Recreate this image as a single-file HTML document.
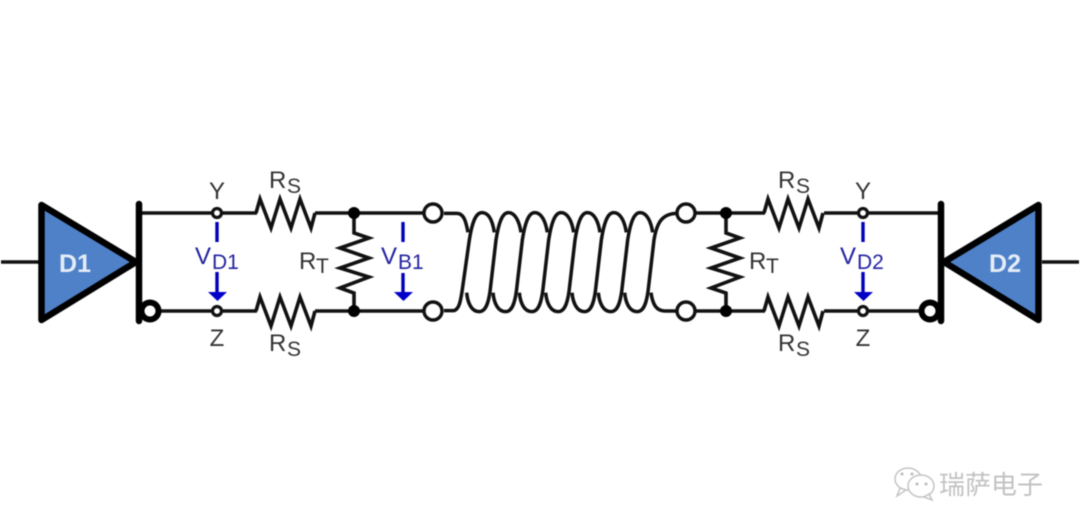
<!DOCTYPE html>
<html><head><meta charset="utf-8">
<style>html,body{margin:0;padding:0;background:#fff}svg{display:block;filter:blur(.4px)}
text{font-family:"Liberation Sans","Noto Sans CJK SC",sans-serif}</style></head>
<body>
<svg width="1080" height="532" viewBox="0 0 1080 532" xmlns="http://www.w3.org/2000/svg">
<rect width="1080" height="532" fill="#fff"/>
<g fill="none" stroke="#111" stroke-width="3.600" stroke-linejoin="miter">
  <!-- wires -->
  <path d="M1 262H40M1042 262H1079"/>
  <path d="M139 213H257M315 213H424M158 311H257M315 311H424"/>
  <path d="M696 213H765M824 213H941M696 311H765M824 311H922"/>
  <!-- series resistors -->
  <path d="M256 213L260 199L271 228L280 199L291 228L300 199L311 228L315 213"/>
  <path d="M256 311L260 297L271 326L280 297L291 326L300 297L311 326L315 311"/>
  <path d="M764 213L768 199L779 228L788 199L799 228L808 199L819 228L823 213"/>
  <path d="M764 311L768 297L779 326L788 297L799 326L808 297L819 326L823 311"/>
  <!-- termination resistors -->
  <path d="M354 213V233L369 238L340 248L369 258L340 268L369 277L340 288L354 293V311"/>
  <path d="M726 213V233L740 238L711 248L740 258L711 268L740 277L711 288L726 293V311"/>
</g>
<!-- drivers -->
<path d="M41.500 205V320L136 262Z" fill="#4f81c9" stroke="#000" stroke-width="6.500" stroke-linejoin="round"/>
<path d="M1038.500 205V320L944 262Z" fill="#4f81c9" stroke="#000" stroke-width="6.500" stroke-linejoin="round"/>
<path d="M139 204V321M941 204V321" stroke="#000" stroke-width="6.500" stroke-linecap="round" fill="none"/>
<circle cx="150" cy="311" r="8.500" fill="#fff" stroke="#000" stroke-width="6"/>
<circle cx="930" cy="311" r="8.500" fill="#fff" stroke="#000" stroke-width="6"/>
<!-- nodes -->
<g fill="#fff" stroke="#111" stroke-width="3.200">
  <circle cx="217" cy="213" r="4.500"/><circle cx="217" cy="311" r="4.500"/>
  <circle cx="863" cy="213" r="4.500"/><circle cx="863" cy="311" r="4.500"/>
</g>
<g fill="#fff" stroke="#111" stroke-width="3.400">
  <circle cx="433" cy="213" r="9"/><circle cx="433" cy="311" r="9"/>
  <circle cx="686" cy="213" r="9"/><circle cx="686" cy="311" r="9"/>
</g>
<g fill="#000">
  <circle cx="354" cy="213" r="6"/><circle cx="354" cy="311" r="6"/>
  <circle cx="726" cy="213" r="6"/><circle cx="726" cy="311" r="6"/>
</g>
<!-- coil -->
<g transform="translate(340,190) scale(.33333)" fill="none" stroke="#111" stroke-width="10.500">
  <path d="M312 70H350C372 70 378 95 384 127"/>
  <path d="M312 362H340C358 360 362 330 366 305L388 150C395 105 405 68 426 68C447 68 458 95 463 127"/>
  <path d="M380 308C383 340 395 365 418 365C437 365 445 340 450 305L468 150C475 105 485 68 505 68C526 68 538 95 543 127"/>
  <path d="M380 308C383 340 395 365 418 365C437 365 445 340 450 305L468 150C475 105 485 68 505 68C526 68 538 95 543 127" transform="translate(79,0)"/>
  <path d="M380 308C383 340 395 365 418 365C437 365 445 340 450 305L468 150C475 105 485 68 505 68C526 68 538 95 543 127" transform="translate(158,0)"/>
  <path d="M380 308C383 340 395 365 418 365C437 365 445 340 450 305L468 150C475 105 485 68 505 68C526 68 538 95 543 127" transform="translate(237,0)"/>
  <path d="M380 308C383 340 395 365 418 365C437 365 445 340 450 305L468 150C475 105 485 68 505 68C526 68 538 95 543 127" transform="translate(316,0)"/>
  <path d="M380 308C383 340 395 365 418 365C437 365 445 340 450 305L468 150C475 105 485 68 505 68C526 68 538 95 543 127" transform="translate(395,0)"/>
  <path d="M854 308C857 340 869 365 892 365C911 365 919 340 924 305L942 150C950 100 965 70 1012 70"/>
  <path d="M933 308C938 345 950 363 975 363H1012"/>
</g>
<!-- voltage arrows -->
<g stroke="#0000b8" stroke-width="3.400" fill="none">
  <path d="M217 222V242M217 272V293"/>
  <path d="M403 222V242M403 273V293"/>
  <path d="M863 222V242M863 272V293"/>
</g>
<g fill="#0000c8">
  <path d="M208 292H227L217.500 301Z"/>
  <path d="M394 292H413L403.500 301Z"/>
  <path d="M854 292H873L863.500 301Z"/>
</g>
<!-- labels -->
<g fill="#333" font-size="24">
  <text x="217" y="199" text-anchor="middle">Y</text>
  <text x="217" y="346" text-anchor="middle">Z</text>
  <text x="863" y="199" text-anchor="middle">Y</text>
  <text x="863" y="346" text-anchor="middle">Z</text>
</g>
<g fill="#333">
  <text x="269" y="188" font-size="24">R</text><text x="287" y="193" font-size="21">S</text>
  <text x="269" y="351" font-size="24">R</text><text x="287" y="356" font-size="21">S</text>
  <text x="778" y="188" font-size="24">R</text><text x="796" y="193" font-size="21">S</text>
  <text x="778" y="351" font-size="24">R</text><text x="796" y="356" font-size="21">S</text>
  <text x="299" y="269" font-size="24">R</text><text x="316" y="273" font-size="21">T</text>
  <text x="749" y="269" font-size="24">R</text><text x="766" y="273" font-size="21">T</text>
</g>
<g fill="#2222a0">
  <text x="195" y="264" font-size="24">V</text><text x="212" y="269" font-size="21">D1</text>
  <text x="381" y="264" font-size="24">V</text><text x="398" y="269" font-size="21">B1</text>
  <text x="840" y="264" font-size="24">V</text><text x="857" y="269" font-size="21">D2</text>
</g>
<g fill="#e4edf8" font-size="25" font-weight="bold" text-anchor="middle">
  <text x="75" y="272">D1</text>
  <text x="1005" y="272">D2</text>
</g>
<!-- watermark -->
<g fill="#fff" stroke="#c4c4c4" stroke-width="1.500">
  <ellipse cx="908" cy="479" rx="13" ry="11"/>
  <path d="M900 488L897 496L906 490Z"/>
  <ellipse cx="921" cy="486" rx="13" ry="11"/>
  <path d="M929 494L932 500L924 497Z"/>
</g>
<g fill="#bbb"><circle cx="917" cy="484" r="1.500"/><circle cx="926" cy="484" r="1.500"/><circle cx="902" cy="474" r="1.500"/><circle cx="912" cy="474" r="1.500"/></g>
<text x="939" y="494" font-size="26" fill="#c2c2c2" style="font-family:'Noto Sans CJK SC',sans-serif">瑞萨电子</text>
</svg>
</body></html>
